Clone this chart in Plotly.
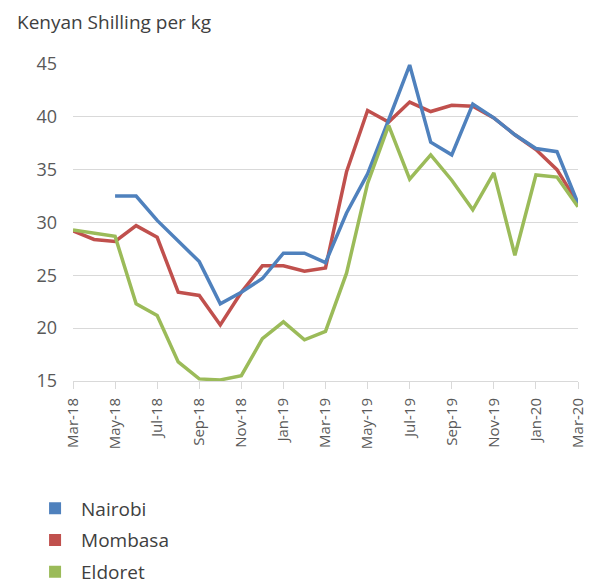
import plotly.graph_objects as go

months = ["Mar-18","Apr-18","May-18","Jun-18","Jul-18","Aug-18","Sep-18","Oct-18","Nov-18","Dec-18",
          "Jan-19","Feb-19","Mar-19","Apr-19","May-19","Jun-19","Jul-19","Aug-19","Sep-19","Oct-19",
          "Nov-19","Dec-19","Jan-20","Feb-20","Mar-20"]
nairobi = [None, None, 32.5, 32.5, 30.2, 28.2, 26.3, 22.3, 23.4, 24.7,
           27.1, 27.1, 26.2, 30.9, 34.6, 39.7, 44.9, 37.6, 36.4, 41.2,
           39.9, 38.3, 37.0, 36.7, 31.8]
mombasa = [29.2, 28.4, 28.2, 29.7, 28.6, 23.4, 23.1, 20.3, 23.4, 25.9,
           25.9, 25.4, 25.7, 34.8, 40.6, 39.5, 41.4, 40.5, 41.1, 41.0,
           39.9, 38.3, 36.9, 35.0, 31.8]
eldoret = [29.3, 29.0, 28.7, 22.3, 21.2, 16.8, 15.2, 15.1, 15.5, 19.0,
           20.6, 18.9, 19.7, 25.2, 33.7, 39.2, 34.1, 36.4, 34.0, 31.2,
           34.7, 26.9, 34.5, 34.3, 31.5]
series_names = ["Nairobi", "Mombasa", "Eldoret"]
colors = {"Nairobi": "#4F81BD", "Mombasa": "#C0504D", "Eldoret": "#9BBB59"}
data = {"Nairobi": nairobi, "Mombasa": mombasa, "Eldoret": eldoret}
tick_labels = months[::2]
y_ticks = [15, 20, 25, 30, 35, 40, 45]

FONT = "Open Sans, Lato, sans-serif"

fig = go.Figure()
for name in ["Mombasa", "Nairobi", "Eldoret"]:
    fig.add_trace(go.Scatter(x=months, y=data[name], mode="lines", name=name,
                             line=dict(color=colors[name], width=3.5),
                             showlegend=False, connectgaps=False))
for i, name in enumerate(series_names):
    fig.add_trace(go.Scatter(x=[None], y=[None], mode="markers", name=name,
                             marker=dict(symbol="square", size=12, color=colors[name]),
                             legendgroup=name, showlegend=True))

fig.update_layout(
    width=596, height=587,
    margin=dict(l=65, r=26, t=56, b=214, autoexpand=False),
    paper_bgcolor="white", plot_bgcolor="white",
    font=dict(family=FONT, color="#595959"),
    legend=dict(x=-0.087, y=-0.342, xanchor="left", yanchor="top",
                font=dict(size=19, color="#404040", family=FONT), tracegroupgap=4,
                itemwidth=42),
    annotations=[dict(text="Kenyan Shilling per kg", xref="paper", yref="paper",
                      x=-0.115, y=1.1325, xanchor="left", yanchor="middle",
                      showarrow=False, font=dict(size=19, color="#404040", family=FONT))],
)
fig.update_xaxes(type="category", range=[0, 24], tickmode="array",
                 tickvals=tick_labels, ticktext=tick_labels, tickangle=-90,
                 ticks="outside", ticklen=7, tickcolor="#d9d9d9",
                 showline=True, linecolor="#d9d9d9", linewidth=1,
                 showgrid=False, automargin=False, ticklabelstandoff=3,
                 tickfont=dict(size=15, color="#595959"))
fig.update_yaxes(range=[15, 45], tickvals=y_ticks, showgrid=True,
                 gridcolor="#d9d9d9", gridwidth=1, zeroline=False, automargin=False,
                 showline=False, ticks="", tickfont=dict(size=18, color="#595959"),
                 ticklabelstandoff=15)
fig.write_html("out.html")
